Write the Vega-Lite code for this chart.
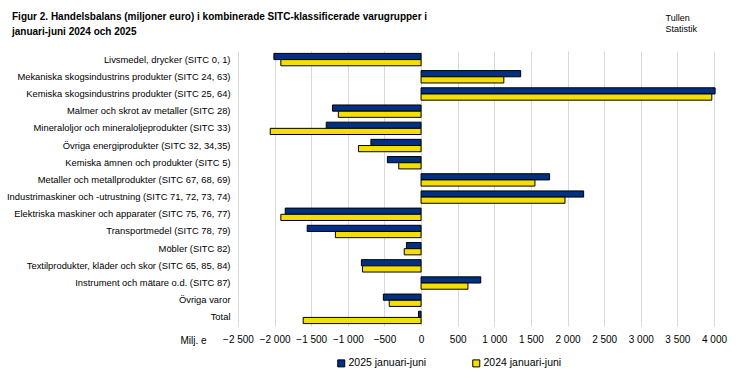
{
  "$schema": "https://vega.github.io/schema/vega-lite/v6.json",
  "width": 476,
  "height": 275,
  "autosize": {"type": "none"},
  "padding": {"left": 238, "top": 51, "right": 23, "bottom": 52},
  "background": "white",
  "title": {
    "text": ["Figur  2. Handelsbalans (miljoner euro) i kombinerade SITC-klassificerade varugrupper i", "januari-juni  2024 och  2025"],
    "anchor": "start",
    "frame": "group",
    "dx": -226,
    "offset": -24,
    "font": "Liberation Sans",
    "fontSize": 10,
    "fontWeight": "bold",
    "color": "black",
    "lineHeight": 15
  },
  "data": {
    "values": [
      {"category": "Livsmedel, drycker (SITC 0, 1)", "period": "2025 januari-juni", "value": -2010},
      {"category": "Livsmedel, drycker (SITC 0, 1)", "period": "2024 januari-juni", "value": -1915},
      {"category": "Mekaniska skogsindustrins produkter (SITC 24, 63)", "period": "2025 januari-juni", "value": 1360},
      {"category": "Mekaniska skogsindustrins produkter (SITC 24, 63)", "period": "2024 januari-juni", "value": 1130},
      {"category": "Kemiska skogsindustrins produkter (SITC 25, 64)", "period": "2025 januari-juni", "value": 4015},
      {"category": "Kemiska skogsindustrins produkter (SITC 25, 64)", "period": "2024 januari-juni", "value": 3970},
      {"category": "Malmer och skrot av metaller (SITC 28)", "period": "2025 januari-juni", "value": -1210},
      {"category": "Malmer och skrot av metaller (SITC 28)", "period": "2024 januari-juni", "value": -1130},
      {"category": "Mineraloljor och mineraloljeprodukter (SITC 33)", "period": "2025 januari-juni", "value": -1295},
      {"category": "Mineraloljor och mineraloljeprodukter (SITC 33)", "period": "2024 januari-juni", "value": -2060},
      {"category": "Övriga energiprodukter (SITC 32, 34,35)", "period": "2025 januari-juni", "value": -685},
      {"category": "Övriga energiprodukter (SITC 32, 34,35)", "period": "2024 januari-juni", "value": -855},
      {"category": "Kemiska ämnen och produkter (SITC 5)", "period": "2025 januari-juni", "value": -460},
      {"category": "Kemiska ämnen och produkter (SITC 5)", "period": "2024 januari-juni", "value": -305},
      {"category": "Metaller och metallprodukter (SITC 67, 68, 69)", "period": "2025 januari-juni", "value": 1755},
      {"category": "Metaller och metallprodukter (SITC 67, 68, 69)", "period": "2024 januari-juni", "value": 1555},
      {"category": "Industrimaskiner och -utrustning (SITC 71, 72, 73, 74)", "period": "2025 januari-juni", "value": 2220},
      {"category": "Industrimaskiner och -utrustning (SITC 71, 72, 73, 74)", "period": "2024 januari-juni", "value": 1965},
      {"category": "Elektriska maskiner och apparater (SITC 75, 76, 77)", "period": "2025 januari-juni", "value": -1855},
      {"category": "Elektriska maskiner och apparater (SITC 75, 76, 77)", "period": "2024 januari-juni", "value": -1915},
      {"category": "Transportmedel (SITC 78, 79)", "period": "2025 januari-juni", "value": -1555},
      {"category": "Transportmedel (SITC 78, 79)", "period": "2024 januari-juni", "value": -1170},
      {"category": "Möbler (SITC 82)", "period": "2025 januari-juni", "value": -200},
      {"category": "Möbler (SITC 82)", "period": "2024 januari-juni", "value": -230},
      {"category": "Textilprodukter, kläder och skor (SITC 65, 85, 84)", "period": "2025 januari-juni", "value": -815},
      {"category": "Textilprodukter, kläder och skor (SITC 65, 85, 84)", "period": "2024 januari-juni", "value": -800},
      {"category": "Instrument och mätare o.d. (SITC 87)", "period": "2025 januari-juni", "value": 815},
      {"category": "Instrument och mätare o.d. (SITC 87)", "period": "2024 januari-juni", "value": 640},
      {"category": "Övriga varor", "period": "2025 januari-juni", "value": -515},
      {"category": "Övriga varor", "period": "2024 januari-juni", "value": -435},
      {"category": "Total", "period": "2025 januari-juni", "value": -35},
      {"category": "Total", "period": "2024 januari-juni", "value": -1610}
    ]
  },
  "mark": {"type": "bar", "stroke": "black", "strokeWidth": 1},
  "encoding": {
    "y": {
      "field": "category",
      "type": "nominal",
      "sort": null,
      "scale": {"paddingInner": 0.28, "paddingOuter": 0.14},
      "axis": {
        "title": ["Tullen", "Statistik"],
        "titleAngle": 0,
        "titleX": 427,
        "titleY": -38,
        "titleAlign": "left",
        "titleBaseline": "top",
        "titleFont": "Liberation Sans",
        "titleFontSize": 9,
        "titleFontWeight": "normal",
        "titleColor": "black",
        "titleLineHeight": 11,
        "domain": false,
        "ticks": false,
        "labelPadding": 8,
        "labelFont": "Liberation Sans",
        "labelFontSize": 9.4,
        "labelColor": "black",
        "labelLimit": 300
      }
    },
    "yOffset": {
      "field": "period",
      "type": "nominal",
      "sort": ["2025 januari-juni", "2024 januari-juni"],
      "scale": {"paddingInner": 0, "paddingOuter": 0}
    },
    "x": {
      "field": "value",
      "type": "quantitative",
      "scale": {"domain": [-2500, 4000], "nice": false, "zero": true},
      "axis": {
        "values": [-2500, -2000, -1500, -1000, -500, 0, 500, 1000, 1500, 2000, 2500, 3000, 3500, 4000],
        "labelExpr": "replace(format(datum.value, ','), ',', ' ')",
        "title": "Milj. e",
        "titleX": -58,
        "titleY": 14,
        "titleAlign": "left",
        "titleBaseline": "middle",
        "titleFont": "Liberation Sans",
        "titleFontSize": 10,
        "titleFontWeight": "normal",
        "titleColor": "black",
        "domain": false,
        "ticks": false,
        "grid": true,
        "gridColor": "#d9d9d9",
        "gridWidth": 1,
        "labelPadding": 8,
        "labelFont": "Liberation Sans",
        "labelFontSize": 10,
        "labelColor": "black",
        "labelFlush": false,
        "labelOverlap": false
      }
    },
    "color": {
      "field": "period",
      "type": "nominal",
      "sort": ["2025 januari-juni", "2024 januari-juni"],
      "scale": {"domain": ["2025 januari-juni", "2024 januari-juni"], "range": ["#003082", "#f5df00"]},
      "legend": {
        "title": null,
        "orient": "none",
        "direction": "horizontal",
        "legendX": 98,
        "legendY": 307,
        "symbolType": "square",
        "symbolSize": 49,
        "symbolStrokeColor": "black",
        "symbolStrokeWidth": 1,
        "labelOffset": 2,
        "labelFont": "Liberation Sans",
        "labelFontSize": 10.5,
        "labelColor": "black",
        "columnPadding": 43
      }
    }
  },
  "config": {"view": {"stroke": null}}
}
